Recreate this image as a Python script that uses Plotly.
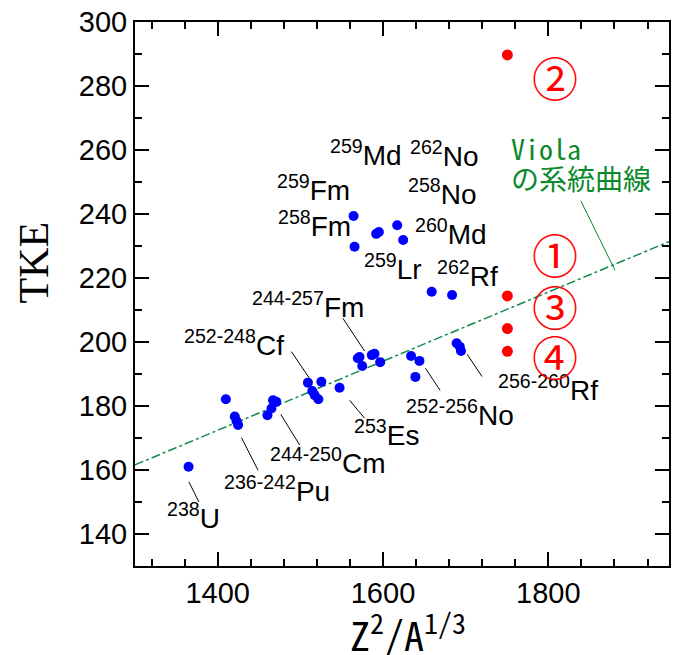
import plotly.graph_objects as go

# ---- measured fission data (blue): x = Z^2/A^(1/3), y = TKE ----
blue_x = [1364.8,
          1409.9, 1420.7, 1422.8, 1424.7,
          1460.2, 1465.0, 1467.0, 1471.0,
          1509.2, 1525.4, 1514.5, 1517.3, 1521.8,
          1547.5,
          1569.6, 1571.6, 1574.9, 1586.5, 1589.7, 1596.6,
          1634.0, 1644.1, 1639.2,
          1689.1, 1693.0, 1694.4,
          1564.4, 1565.6, 1591.8, 1595.0, 1617.2, 1624.4, 1658.9, 1683.6]
blue_y = [161.0,
          182.1, 176.7, 175.3, 174.1,
          177.1, 179.2, 181.8, 181.3,
          187.3, 187.6, 184.7, 183.4, 182.1,
          185.7,
          194.9, 195.3, 192.5, 195.9, 196.3, 193.7,
          195.6, 194.1, 189.1,
          199.6, 198.5, 197.2,
          239.4, 229.8, 233.8, 234.4, 236.5, 231.9, 215.7, 214.7]

# ---- calculated cases (red) ----
red_x = [1750.5, 1750.5, 1750.5, 1750.5]
red_y = [289.7, 214.4, 204.2, 197.1]
red_tags = ["②", "①", "③", "④"]

# ---- Viola systematics line ----
viola_slope = 0.108
viola_intercept = 21.2

x_range = [1300, 1946]
y_range = [130, 300]
x_ticks = [1400, 1600, 1800]
y_ticks = [140, 160, 180, 200, 220, 240, 260, 280, 300]

# nucleus labels: (text, x, y) text anchored left/middle
nuclide_labels = [
    ("<sup>259</sup>Md", 1533.4, 258.1),
    ("<sup>262</sup>No", 1630.0, 257.8),
    ("<sup>259</sup>Fm", 1469.0, 247.2),
    ("<sup>258</sup>No", 1628.0, 245.8),
    ("<sup>258</sup>Fm", 1470.2, 235.9),
    ("<sup>260</sup>Md", 1636.0, 233.4),
    ("<sup>259</sup>Lr", 1574.4, 222.5),
    ("<sup>262</sup>Rf", 1663.0, 220.3),
    ("<sup>244-257</sup>Fm", 1439.7, 210.5),
    ("<sup>252-248</sup>Cf", 1356.4, 198.9),
    ("<sup>253</sup>Es", 1562.8, 170.6),
    ("<sup>244-250</sup>Cm", 1461.0, 162.0),
    ("<sup>236-242</sup>Pu", 1404.7, 153.0),
    ("<sup>238</sup>U", 1336.2, 144.8),
    ("<sup>252-256</sup>No", 1626.0, 177.0),
    ("<sup>256-260</sup>Rf", 1736.7, 184.8),
]

# leader lines from labels to point groups: (x0, y0, x1, y1)
leaders = [
    (1551.5, 207.4, 1577.7, 197.2),
    (1489.2, 197.0, 1513.3, 187.8),
    (1559.6, 181.8, 1577.7, 176.2),
    (1476.3, 177.4, 1499.2, 167.8),
    (1428.8, 170.1, 1448.9, 159.9),
    (1365.2, 156.3, 1377.3, 150.0),
    (1651.3, 191.8, 1669.1, 184.9),
    (1701.7, 196.2, 1719.8, 189.2),
]

# circled case numbers next to the red points
tag_x = 1808.5
tag_y = [283.1, 227.7, 211.6, 195.9]

GREEN = "#0a8a2a"
LINE_GREEN = "#128a4a"
MONO_JP = "Noto Sans Mono CJK JP, Noto Sans CJK JP, DejaVu Sans Mono"

fig = go.Figure()

# Viola systematics
vx = list(x_range)
vy = [viola_slope * v + viola_intercept for v in vx]
fig.add_trace(go.Scatter(x=vx, y=vy, mode="lines",
                         line=dict(color=LINE_GREEN, width=1.5, dash="dashdot"),
                         hoverinfo="skip"))

# leader lines
lx, ly = [], []
for x0, y0, x1, y1 in leaders:
    lx += [x0, x1, None]
    ly += [y0, y1, None]
fig.add_trace(go.Scatter(x=lx, y=ly, mode="lines",
                         line=dict(color="black", width=1), hoverinfo="skip"))

# pointer for the Viola label
fig.add_trace(go.Scatter(x=[1839.3, 1880.7], y=[244.1, 222.4], mode="lines",
                         line=dict(color=GREEN, width=1), hoverinfo="skip"))

fig.add_trace(go.Scatter(x=blue_x, y=blue_y, mode="markers",
                         marker=dict(color="#0000ff", size=10, line=dict(width=0))))
fig.add_trace(go.Scatter(x=red_x, y=red_y, mode="markers",
                         marker=dict(color="#ff0000", size=11, line=dict(width=0))))

annotations = []
for text, x, y in nuclide_labels:
    annotations.append(dict(x=x, y=y, xref="x", yref="y", text=text, showarrow=False,
                            xanchor="left", yanchor="middle", yshift=3,
                            font=dict(family="Liberation Sans, Arial", size=28, color="black")))

for tag, y in zip(red_tags, tag_y):
    annotations.append(dict(x=tag_x, y=y, xref="x", yref="y", text=tag, showarrow=False,
                            xanchor="center", yanchor="middle",
                            font=dict(family="Noto Sans CJK JP", size=46, color="#ff0000")))

annotations.append(dict(x=1752.7, y=260.7, xref="x", yref="y", text="Viola", showarrow=False,
                        xanchor="left", yanchor="middle",
                        font=dict(family=MONO_JP, size=28, color=GREEN)))
annotations.append(dict(x=1752.7, y=251.1, xref="x", yref="y", text="の系統曲線", showarrow=False,
                        xanchor="left", yanchor="middle",
                        font=dict(family=MONO_JP, size=28, color=GREEN)))

# axis titles
annotations.append(dict(x=-0.19, y=0.557, xref="paper", yref="paper", text="TKE",
                        showarrow=False, textangle=-90, xanchor="center", yanchor="middle",
                        font=dict(family="Liberation Serif, Times New Roman", size=42, color="black")))
annotations.append(dict(x=0.512, y=-0.122, xref="paper", yref="paper",
                        text="Z<sup>2</sup>/A<sup>1/3</sup>",
                        showarrow=False, xanchor="center", yanchor="middle",
                        font=dict(family=MONO_JP, size=40, color="black")))

axis_common = dict(showgrid=False, zeroline=False, showline=True, linecolor="black",
                   linewidth=2, mirror="allticks", ticks="inside", ticklen=14,
                   tickwidth=1.5, tickcolor="black",
                   tickfont=dict(family="Liberation Sans, Arial", size=29, color="black"))

fig.update_xaxes(range=x_range, tickvals=x_ticks,
                 minor=dict(dtick=40, tick0=1400, ticks="inside", ticklen=7,
                            tickwidth=1.5, tickcolor="black"),
                 **axis_common)
fig.update_yaxes(range=y_range, tickvals=y_ticks,
                 minor=dict(dtick=10, tick0=140, ticks="inside", ticklen=7,
                            tickwidth=1.5, tickcolor="black"),
                 **axis_common)

fig.update_layout(width=677, height=655, showlegend=False,
                  margin=dict(l=135, r=6, t=20, b=89),
                  plot_bgcolor="white", paper_bgcolor="white",
                  annotations=annotations)

fig.write_html("out.html")
